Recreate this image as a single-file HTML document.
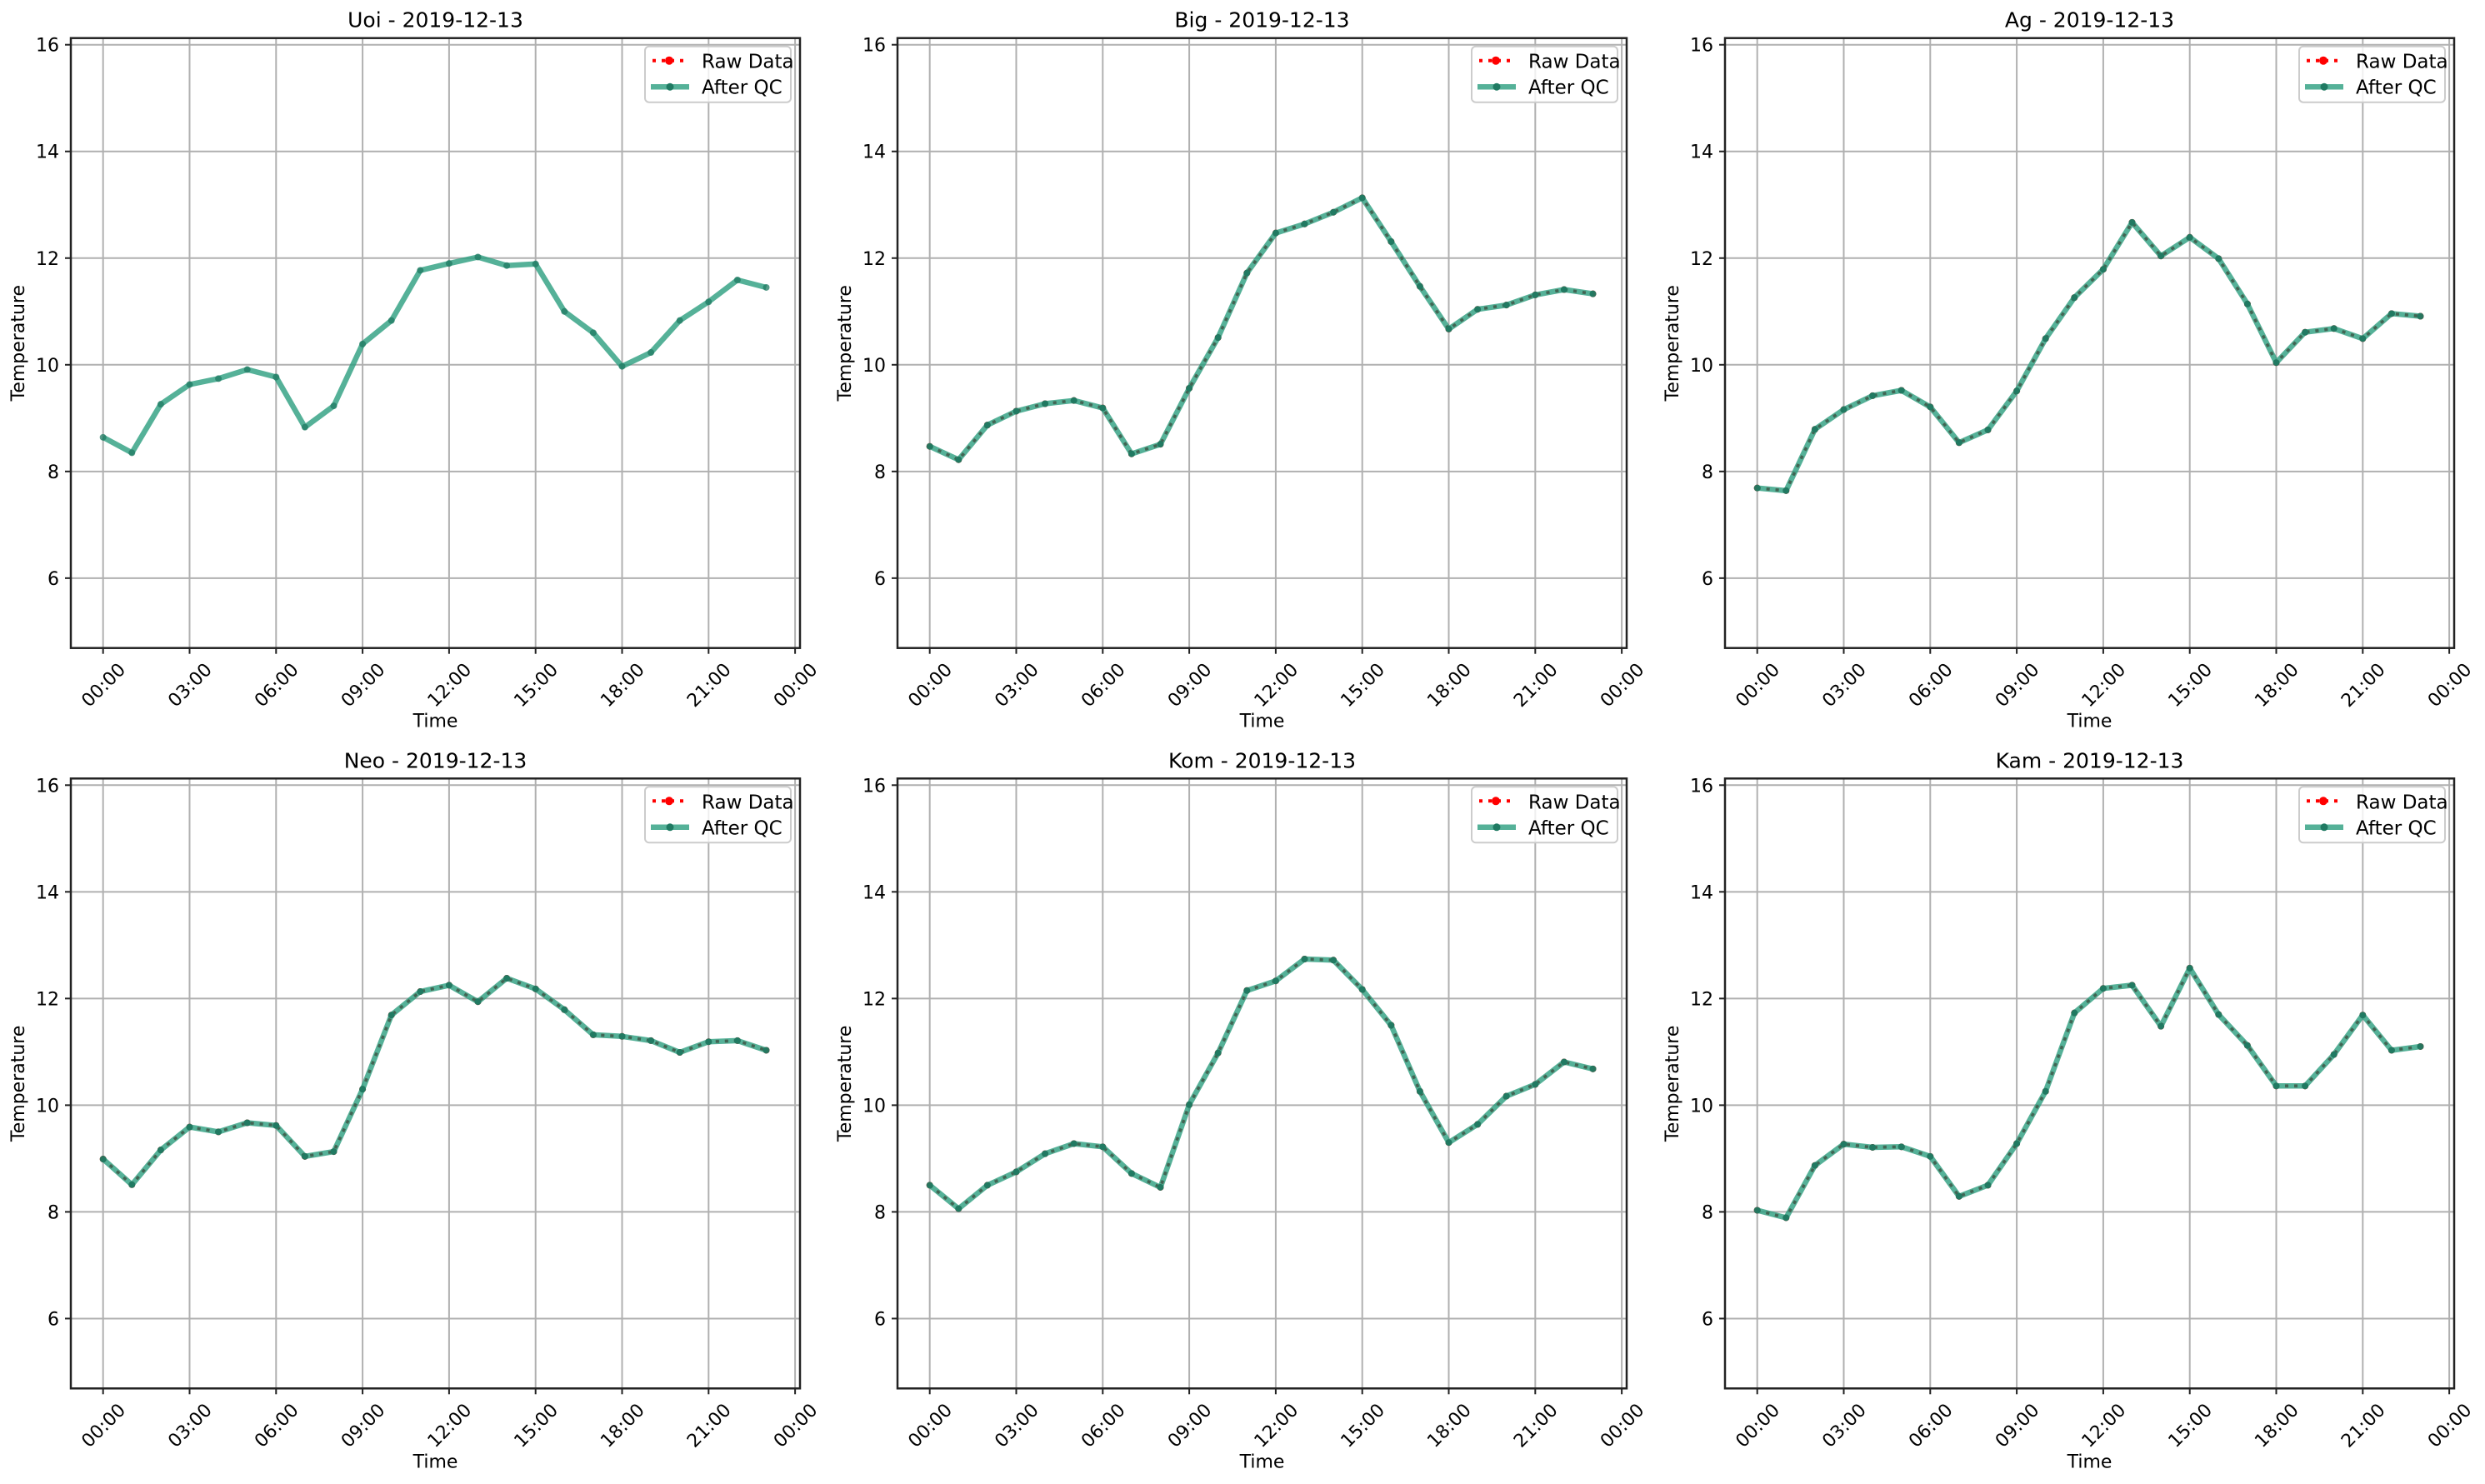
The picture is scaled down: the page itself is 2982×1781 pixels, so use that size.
<!DOCTYPE html>
<html>
<head>
<meta charset="utf-8">
<style>
  html,body{margin:0;padding:0;background:#fff;}
  svg{display:block;font-family:"DejaVu Sans","Liberation Sans",sans-serif;}
</style>
</head>
<body>
<svg id="fig" width="2982" height="1781" viewBox="0 0 2982 1781" xmlns="http://www.w3.org/2000/svg">
  <rect x="0" y="0" width="2982" height="1781" fill="#fff"/>
</svg>
<script>
// ---- data ----
const stations = ["Uoi", "Big", "Ag", "Neo", "Kom", "Kam"];
const dateLabel = "2019-12-13";
const hours = [0,1,2,3,4,5,6,7,8,9,10,11,12,13,14,15,16,17,18,19,20,21,22,23];
const uoiTemps = [8.64,8.35,9.26,9.63,9.74,9.91,9.77,8.83,9.23,10.39,10.83,11.77,11.90,12.02,11.86,11.89,11.00,10.60,9.97,10.23,10.83,11.18,11.59,11.45];
const bigTemps = [8.47,8.22,8.87,9.13,9.27,9.33,9.19,8.33,8.51,9.56,10.51,11.72,12.47,12.64,12.86,13.13,12.31,11.47,10.67,11.04,11.12,11.31,11.41,11.33];
const agTemps  = [7.69,7.64,8.79,9.16,9.42,9.52,9.21,8.54,8.78,9.51,10.49,11.26,11.79,12.67,12.04,12.39,11.99,11.14,10.04,10.61,10.68,10.49,10.96,10.91];
const neoTemps = [8.99,8.51,9.16,9.59,9.50,9.67,9.62,9.04,9.13,10.30,11.69,12.13,12.25,11.94,12.38,12.18,11.79,11.32,11.29,11.21,10.99,11.19,11.21,11.03];
const komTemps = [8.50,8.06,8.50,8.75,9.09,9.28,9.22,8.72,8.46,10.01,10.98,12.15,12.33,12.74,12.72,12.17,11.50,10.26,9.30,9.64,10.17,10.39,10.81,10.68];
const kamTemps = [8.03,7.89,8.87,9.27,9.21,9.22,9.04,8.29,8.50,9.28,10.26,11.73,12.19,12.25,11.48,12.57,11.70,11.12,10.36,10.36,10.95,11.69,11.03,11.10];
const showRaw = [false, true, true, true, true, true];
const xTickHours = [0,3,6,9,12,15,18,21,24];
const xTickLabels = ["00:00","03:00","06:00","09:00","12:00","15:00","18:00","21:00","00:00"];
const yTicks = [6,8,10,12,14,16];

const series = [uoiTemps, bigTemps, agTemps, neoTemps, komTemps, kamTemps];
const NS = "http://www.w3.org/2000/svg";
const fig = document.getElementById("fig");
const lefts = [85, 1077, 2070], tops = [45.7, 934.3];
const W = 875, H = 732;
const xMin = -1.118, xMax = 24.17, yMin = 4.69, yMax = 16.125;

function mk(tag, attrs, parent) {
  const e = document.createElementNS(NS, tag);
  for (const k in attrs) e.setAttribute(k, attrs[k]);
  parent.appendChild(e);
  return e;
}

stations.forEach((name, i) => {
  const L = lefts[i % 3], T = tops[Math.floor(i / 3)];
  const xs = h => L + (h - xMin) / (xMax - xMin) * W;
  const ys = v => T + (yMax - v) / (yMax - yMin) * H;
  const g = mk("g", {}, fig);
  
  

  const grid = mk("g", {stroke: "#b0b0b0", "stroke-width": 2}, g);
  
  
  xTickHours.forEach(h => mk("line", {x1: xs(h), x2: xs(h), y1: T, y2: T + H}, grid));
  yTicks.forEach(v => mk("line", {x1: L, x2: L + W, y1: ys(v), y2: ys(v)}, grid));

  const yax = mk("g", {}, g);
  
  
  yTicks.forEach(v => {
    mk("line", {x1: L - 7, x2: L, y1: ys(v), y2: ys(v), stroke: "#222", "stroke-width": 2}, yax);
    const t = mk("text", {x: L - 14, y: ys(v) + 8, "text-anchor": "end", "font-size": 22, fill: "#000"}, yax);
    
    
    t.textContent = v;
  });
  const xax = mk("g", {}, g);
  
  
  xTickHours.forEach((h, k) => {
    mk("line", {x1: xs(h), x2: xs(h), y1: T + H, y2: T + H + 7, stroke: "#222", "stroke-width": 2}, xax);
    const cx = xs(h), cy = T + H + 44;
    const t = mk("text", {x: cx, y: cy + 8, "text-anchor": "middle", "font-size": 22, fill: "#000",
      transform: `rotate(-45 ${cx} ${cy})`}, xax);
    
    
    t.textContent = xTickLabels[k];
  });

  const xt = mk("text", {x: L + W / 2, y: T + H + 95, "text-anchor": "middle", "font-size": 22}, g);
  
  
  xt.textContent = "Time";
  const yc = T + H / 2, yx = L - 64;
  const yt = mk("text", {x: yx, y: yc + 8, "text-anchor": "middle", "font-size": 22,
    transform: `rotate(-90 ${yx} ${yc})`}, g);
  
  
  yt.textContent = "Temperature";
  const tt = mk("text", {x: L + W / 2, y: T - 13, "text-anchor": "middle", "font-size": 25}, g);
  
  
  tt.textContent = name + " - " + dateLabel;

  const vals = series[i];
  const pts = hours.map((h, k) => xs(h).toFixed(1) + "," + ys(vals[k]).toFixed(1)).join(" ");
  if (showRaw[i]) {
    const raw = mk("polyline", {points: pts, fill: "none", stroke: "#ff0000", "stroke-width": 4,
      "stroke-dasharray": "4 7", "stroke-linejoin": "round"}, g);
    
    
    hours.forEach((h, k) => {
      const c = mk("circle", {cx: xs(h), cy: ys(vals[k]), r: 4, fill: "#ff0000"}, g);
      
      
    });
  }
  const qc = mk("polyline", {points: pts, fill: "none", stroke: "#2a9d7e", "stroke-opacity": 0.8,
    "stroke-width": 6.5, "stroke-linejoin": "round"}, g);
  
  
  if (showRaw[i]) {
    const ov = mk("polyline", {points: pts, fill: "none", stroke: "#3a5f50", "stroke-opacity": 0.8,
      "stroke-width": 3, "stroke-dasharray": "4 7"}, g);
    
    
  }
  hours.forEach((h, k) => {
    const c = mk("circle", {cx: xs(h), cy: ys(vals[k]), r: 4, fill: "#1f7a62", "fill-opacity": showRaw[i] ? 0.95 : 0.75}, g);
    
    
  });

  const sp = mk("rect", {x: L, y: T, width: W, height: H, fill: "none", stroke: "#222", "stroke-width": 2.5}, g);
  
  

  const lg = mk("g", {}, g);
  
  
  const lx = L + W - 186, ly = T + 10;
  mk("rect", {x: lx, y: ly, width: 175, height: 67, rx: 5, fill: "#fff", "fill-opacity": 0.8,
    stroke: "#cccccc", "stroke-width": 2}, lg);
  const e1 = mk("g", {}, lg);
  
  
  mk("line", {x1: lx + 9, x2: lx + 47, y1: ly + 17, y2: ly + 17, stroke: "#ff0000", "stroke-width": 4, "stroke-dasharray": "4 7"}, e1);
  mk("circle", {cx: lx + 29, cy: ly + 17, r: 5, fill: "#ff0000"}, e1);
  const t1 = mk("text", {x: lx + 68, y: ly + 26, "font-size": 23}, e1);
  t1.textContent = "Raw Data";
  const e2 = mk("g", {}, lg);
  
  
  mk("line", {x1: lx + 7, x2: lx + 53, y1: ly + 48.5, y2: ly + 48.5, stroke: "#2a9d7e", "stroke-opacity": 0.8, "stroke-width": 6.5}, e2);
  mk("circle", {cx: lx + 30, cy: ly + 48.5, r: 4.5, fill: "#1f7a62"}, e2);
  const t2 = mk("text", {x: lx + 68, y: ly + 57, "font-size": 23}, e2);
  t2.textContent = "After QC";
});
</script>
</body>
</html>
